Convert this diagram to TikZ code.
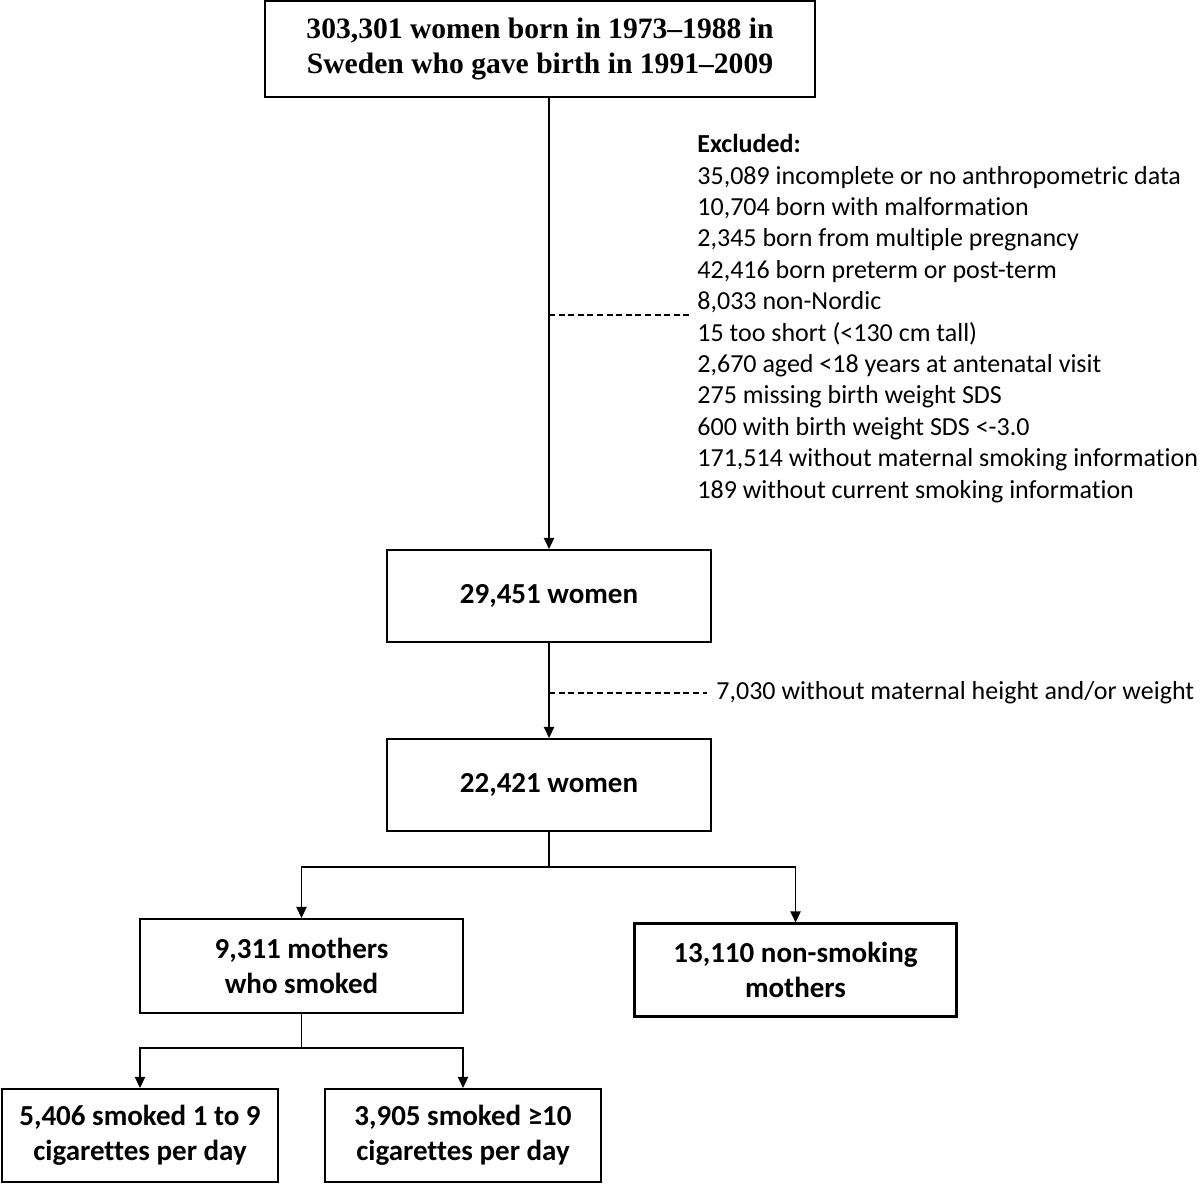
\documentclass[tikz,border=0pt]{standalone}
\usepackage{fontspec}
\setmainfont{Carlito}[Ligatures={TeX,NoCommon}]
\newfontfamily\timesfont{Liberation Serif}[Ligatures=TeX]
\usetikzlibrary{arrows.meta}
\begin{document}
\begin{tikzpicture}[x=0.5pt,y=-0.5pt,
  box/.style={draw, line width=1.15pt, align=center, inner sep=0pt,
    font=\fontsize{14.5}{17.7}\selectfont\bfseries},
  conn/.style={line width=0.8pt},
  arr/.style={conn, -{Triangle[length=5.5pt,width=5.2pt]}},
  exdash/.style={line width=0.7pt, dash pattern=on 3pt off 1.8pt},
  note/.style={inner sep=0pt, align=left, font=\fontsize{13}{15.7}\selectfont}
]
\useasboundingbox (0,0) rectangle (1200,1184);

\node[box, minimum width=275pt, minimum height=48pt,
  font=\timesfont\fontsize{14.8}{17.5}\selectfont\bfseries] (top) at (540,49)
  {303,301 women born in 1973–1988 in\\Sweden who gave birth in 1991–2009};

\node[box, minimum width=162pt, minimum height=46pt] (b2) at (549,596) {29,451 women};
\node[box, minimum width=162pt, minimum height=46pt] (b3) at (549,785) {22,421 women};
\node[box, minimum width=161.5pt, minimum height=47pt] (b4) at (301.5,966) {9,311 mothers\\who smoked};
\node[box, minimum width=161pt, minimum height=46.5pt] (b5) at (795.5,970) {13,110 non-smoking\\mothers};
\node[box, minimum width=138pt, minimum height=46.5pt] (b6) at (140,1135.5) {5,406 smoked 1 to 9\\cigarettes per day};
\node[box, minimum width=138pt, minimum height=46.5pt] (b7) at (463,1135.5) {3,905 smoked ≥10\\cigarettes per day};

\node[note, anchor=north west] (excl) at (697,134) {\textbf{Excluded:}\\
35,089 incomplete or no anthropometric data\\
10,704 born with malformation\\
2,345 born from multiple pregnancy\\
42,416 born preterm or post-term\\
8,033 non-Nordic\\
15 too short (<130 cm tall)\\
2,670 aged <18 years at antenatal visit\\
275 missing birth weight SDS\\
600 with birth weight SDS <-3.0\\
171,514 without maternal smoking information\\
189 without current smoking information};

\node[note, anchor=west] (excl2) at (716,693) {7,030 without maternal height and/or weight};

% main flow
\draw[arr] (top.south -| b2.north) -- (b2.north);
\draw[arr] (b2.south) -- (b3.north);

% exclusion dashes
\coordinate (j1) at (549,315);
\coordinate (e1) at (690,315);
\draw[exdash] (j1) -- (e1);
\coordinate (j2) at (549,693);
\draw[exdash] (j2) -- ([xshift=-4.5pt]excl2.west);

% split 1
\coordinate (s1) at (549,867);
\draw[conn] (b3.south) -- (s1);
\draw[arr] (s1) -| (b4.north);
\draw[arr] (s1) -| (b5.north);

% split 2
\coordinate (s2) at (301.5,1048);
\draw[conn] (b4.south) -- (s2);
\draw[arr] (s2) -| (b6.north);
\draw[arr] (s2) -| (b7.north);
\end{tikzpicture}
\end{document}
